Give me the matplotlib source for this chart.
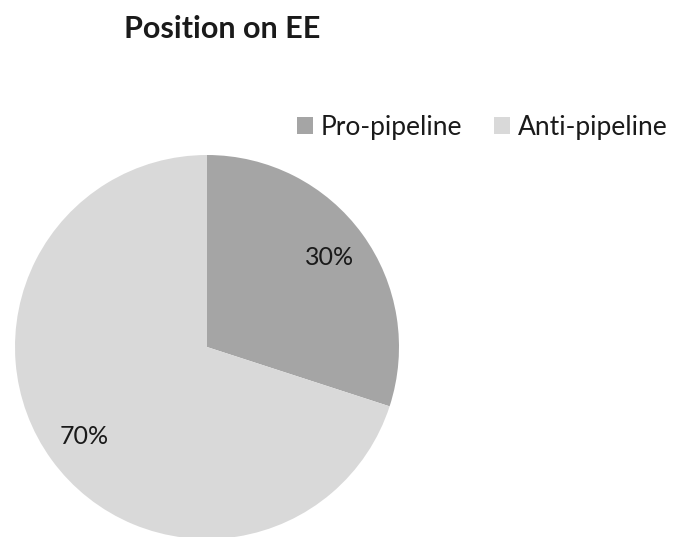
import matplotlib

matplotlib.use("Agg")
import matplotlib.pyplot as plt
from matplotlib.patches import Patch

# Share of respondents by position
labels = ["Pro-pipeline", "Anti-pipeline"]
shares = [30, 70]
colors = ["#a5a5a5", "#d9d9d9"]

TEXT_COLOR = "#1a1a1a"

plt.rcParams["font.family"] = ["Lato", "DejaVu Sans"]

W, H = 673, 537
fig = plt.figure(figsize=(W / 100, H / 100), dpi=100)
fig.patch.set_facecolor("white")

# pie centred at (207, 347) px with radius 192 px
cx, cy, r = 207, 347, 192
ax = fig.add_axes([(cx - r) / W, (H - cy - r) / H, 2 * r / W, 2 * r / H])
wedges, _, autotexts = ax.pie(
    shares,
    colors=colors,
    startangle=90,
    counterclock=False,
    autopct="%1.0f%%",
    pctdistance=0.79,
    wedgeprops={"linewidth": 0},
    textprops={"fontsize": 18, "color": TEXT_COLOR},
)
ax.set_xlim(-1, 1)
ax.set_ylim(-1, 1)
ax.set_aspect("auto")
ax.axis("off")

fig.text(222 / W, 1 - 29 / H, "Position on EE", ha="center", va="center",
         fontsize=22, fontweight="bold", color=TEXT_COLOR)

handles = [Patch(facecolor=c, edgecolor="none") for c in colors]
fig.legend(handles, labels, loc="center left", bbox_to_anchor=(297 / W, 1 - 127 / H),
           ncol=2, frameon=False, fontsize=19, labelcolor=TEXT_COLOR,
           handlelength=0.6, handleheight=0.6, handletextpad=0.3,
           columnspacing=1.2, borderpad=0, borderaxespad=0)

fig.savefig("out.png", dpi=100, facecolor="white")
